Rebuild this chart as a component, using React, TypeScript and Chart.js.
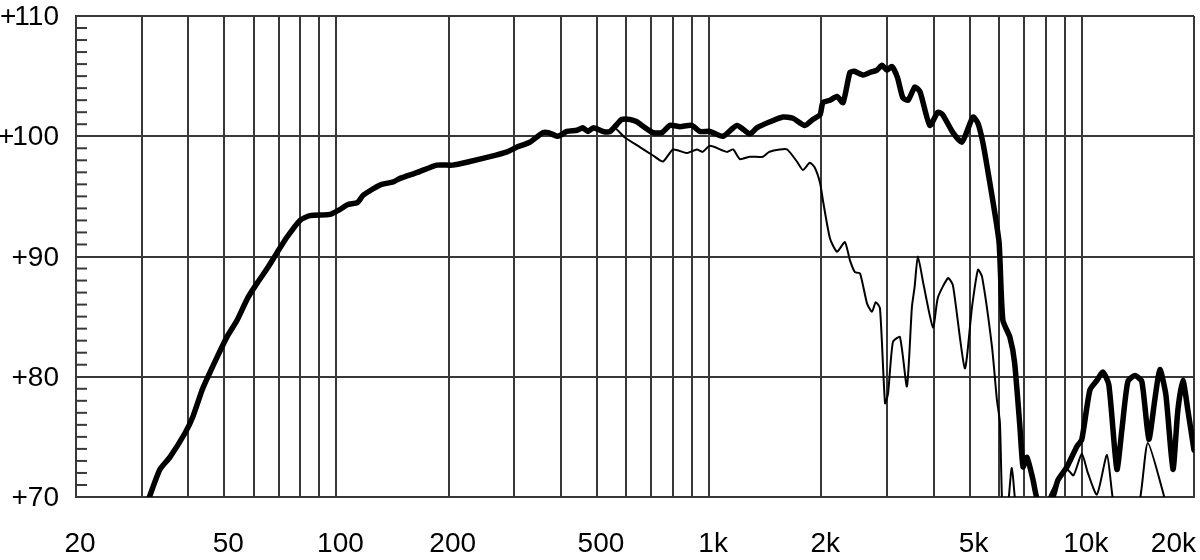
import React, { useEffect, useRef } from 'react';
import { Chart, registerables } from 'chart.js';

Chart.register(...registerables);

// Frequencies (Hz) where both curves coincide
const sharedFreq = [31.3, 33.6, 35.7, 39.2, 41.2, 43.6, 45.2, 48.1, 50.8, 54.1, 57.9, 61.6, 65.5, 69.2, 73.6, 79.8, 84.9, 96, 102, 107, 114, 118, 131, 142, 148, 165, 186, 205, 228, 258, 287, 305, 330, 358, 370, 393, 415, 442, 458, 473, 489, 519, 542];
const sharedDb = [69.8, 72.3, 73.3, 75.3, 76.7, 78.9, 80.0, 81.8, 83.3, 84.7, 86.6, 87.9, 89.1, 90.3, 91.6, 93.0, 93.4, 93.5, 93.9, 94.3, 94.5, 95.1, 95.95, 96.2, 96.5, 97.0, 97.6, 97.6, 97.9, 98.3, 98.7, 99.1, 99.5, 100.3, 100.3, 100.0, 100.4, 100.5, 100.7, 100.4, 100.7, 100.4, 100.4];

// Thick (on-axis) curve above the split
const thickFreq = [566, 583, 613, 640, 660, 707, 747, 785, 835, 899, 944, 1005, 1089, 1187, 1286, 1343, 1456, 1578, 1678, 1807, 1898, 1985, 2019, 2110, 2204, 2287, 2386, 2450, 2587, 2700, 2819, 2909, 3000, 3093, 3200, 3310, 3420, 3565, 3680, 3909, 4111, 4230, 4510, 4766, 4918, 5107, 5260, 5432, 5667, 5843, 6000, 6140, 6410, 6600, 6823, 6955, 7127, 7400, 7600, 8000, 8363, 8626, 9120, 9700, 10000, 10513, 10980, 11392, 11820, 12420, 12810, 13290, 13880, 14490, 15130, 15700, 16200, 16810, 17560, 18100, 18670, 19260, 20000];
const thickDb = [101.0, 101.4, 101.4, 101.2, 100.9, 100.3, 100.3, 100.9, 100.8, 100.9, 100.4, 100.4, 100.0, 100.9, 100.2, 100.7, 101.2, 101.6, 101.5, 100.9, 101.4, 101.8, 102.8, 103.0, 103.3, 102.8, 105.3, 105.4, 105.1, 105.3, 105.5, 105.9, 105.5, 105.8, 104.9, 103.2, 103.0, 104.1, 103.7, 100.9, 102.0, 101.8, 100.3, 99.5, 100.4, 101.6, 101.1, 99.4, 96.1, 93.6, 91.1, 84.7, 83.3, 81.2, 75.8, 72.5, 73.3, 71.4, 69.8, 69.3, 70.0, 71.4, 72.5, 74.2, 74.8, 78.9, 79.7, 80.4, 79.3, 72.3, 75.6, 79.6, 80.1, 79.6, 74.8, 78.1, 80.6, 78.5, 72.3, 77.2, 79.7, 77.2, 73.9];

// Thin (off-axis) curve above the split
const thinFreq = [558, 594, 652, 707, 752, 800, 872, 927, 960, 1005, 1116, 1160, 1209, 1286, 1394, 1450, 1549, 1620, 1720, 1785, 1863, 1920, 1985, 2019, 2110, 2204, 2313, 2386, 2461, 2540, 2652, 2734, 2800, 2873, 2965, 3020, 3113, 3250, 3394, 3500, 3560, 3631, 3770, 3988, 4111, 4376, 4510, 4853, 5074, 5264, 5400, 5740, 5917, 6028, 6140, 6300, 6490, 6740, 7500, 8060, 8400, 8700, 9120, 9500, 10000, 10380, 10980, 11680, 12120, 13000, 14320, 15040, 16710, 18000, 20000];
const thinDb = [100.7, 99.9, 99.1, 98.4, 97.9, 98.9, 98.6, 98.9, 98.7, 99.2, 98.7, 98.9, 98.1, 98.3, 98.3, 98.7, 98.9, 98.9, 97.9, 97.2, 97.8, 97.4, 96.1, 94.7, 91.5, 90.4, 91.2, 89.7, 88.7, 88.6, 86.1, 85.4, 86.2, 85.7, 77.8, 78.6, 82.9, 83.3, 79.2, 85.8, 87.5, 90.0, 87.5, 84.1, 86.6, 88.2, 87.6, 80.7, 85.8, 88.9, 88.3, 82.5, 78.1, 76.2, 68.0, 68.5, 72.4, 68.0, 66.0, 69.5, 70.8, 71.5, 72.3, 71.8, 73.6, 72.0, 70.2, 73.5, 69.8, 66.0, 69.8, 74.5, 69.8, 66.0, 66.0];

// Grid lines and labels
const gridFreqs = [20, 30, 40, 50, 60, 70, 80, 90, 100, 200, 300, 400, 500, 600, 700, 800, 900, 1000, 2000, 3000, 4000, 5000, 6000, 7000, 8000, 9000, 10000, 20000];
const xLabelValues = [20, 50, 100, 200, 500, 1000, 2000, 5000, 10000, 20000];
const xLabels = ['20', '50', '100', '200', '500', '1k', '2k', '5k', '10k', '20k'];
const yLabelValues = [70, 80, 90, 100, 110];
const yLabels = ['+70', '+80', '+90', '+100', '+110'];

const GRID = '#383838';

export default function App() {
  const ref = useRef<HTMLCanvasElement>(null);

  useEffect(() => {
    const canvas = ref.current;
    if (!canvas) return;
    const toPts = (f: number[], d: number[]) => f.map((x, i) => ({ x, y: d[i] }));
    const thick = toPts([...sharedFreq, ...thickFreq], [...sharedDb, ...thickDb]);
    const thin = toPts([...sharedFreq, ...thinFreq], [...sharedDb, ...thinDb]);

    const drawTight = (ctx: CanvasRenderingContext2D, text: string, right: number, base: number) => {
      const chars = text.split('');
      const adv = chars.map((c, i) => {
        let w = ctx.measureText(c).width;
        const n = chars[i + 1];
        if (c === '+' && n === '1') w -= 2;
        if (c === '1' && n === '1') w -= 2;
        return w;
      });
      let x = right - adv.reduce((a, b) => a + b, 0);
      ctx.textAlign = 'left';
      chars.forEach((c, i) => {
        ctx.fillText(c, x, base);
        x += adv[i];
      });
    };

    const decor = {
      id: 'decor',
      beforeDatasetsDraw(chart: any) {
        const { ctx, chartArea, scales } = chart;
        const y = scales.y;
        ctx.save();
        ctx.strokeStyle = GRID;
        ctx.lineWidth = 2;
        for (let v = 71; v < 110; v++) {
          if (v % 10 === 0) continue;
          const py = y.getPixelForValue(v);
          ctx.beginPath();
          ctx.moveTo(chartArea.left, py);
          ctx.lineTo(chartArea.left + 11, py);
          ctx.stroke();
        }
        ctx.restore();
      },
      afterDraw(chart: any) {
        const { ctx, chartArea, scales } = chart;
        ctx.save();
        ctx.fillStyle = '#000';
        ctx.font = '28px "Liberation Sans", Arial, sans-serif';
        ctx.textBaseline = 'alphabetic';
        xLabelValues.forEach((v, i) => {
          const px = scales.x.getPixelForValue(v);
          if (i === xLabelValues.length - 1) {
            ctx.textAlign = 'right';
            ctx.fillText(xLabels[i], chartArea.right + 2, 552);
          } else {
            ctx.textAlign = 'center';
            ctx.fillText(xLabels[i], px + 4, 552);
          }
        });
        yLabelValues.forEach((v, i) => {
          const py = scales.y.getPixelForValue(v);
          drawTight(ctx, yLabels[i], 59, py + 9);
        });
        ctx.restore();
      },
    };

    const chart = new Chart(canvas, {
      type: 'line',
      data: {
        datasets: [
          { data: thick, borderColor: '#000', borderWidth: 5.5, pointRadius: 0, tension: 0.2, fill: false, borderCapStyle: 'round', borderJoinStyle: 'round' },
          { data: thin, borderColor: '#000', borderWidth: 2, pointRadius: 0, tension: 0.2, fill: false, borderJoinStyle: 'round' },
        ],
      } as any,
      options: {
        animation: false,
        responsive: false,
        maintainAspectRatio: false,
        layout: { padding: { left: 76, top: 16, right: 6, bottom: 63 } },
        plugins: { legend: { display: false }, tooltip: { enabled: false } },
        scales: {
          x: {
            type: 'logarithmic',
            min: 20,
            max: 20000,
            afterBuildTicks: (s: any) => {
              s.ticks = gridFreqs.map((v) => ({ value: v }));
            },
            ticks: { display: false },
            grid: { color: GRID, lineWidth: 2, drawTicks: false },
            border: { display: true, color: GRID, width: 2 },
          },
          y: {
            min: 70,
            max: 110,
            ticks: { display: false, stepSize: 10 },
            grid: { color: GRID, lineWidth: 2, drawTicks: false },
            border: { display: true, color: GRID, width: 2 },
          },
        },
      } as any,
      plugins: [decor],
    });
    return () => chart.destroy();
  }, []);

  return (
    <div style={{ position: 'fixed', left: 0, top: 0, width: 1200, height: 560, background: '#fff' }}>
      <canvas ref={ref} width={1200} height={560} style={{ display: 'block' }} />
    </div>
  );
}
